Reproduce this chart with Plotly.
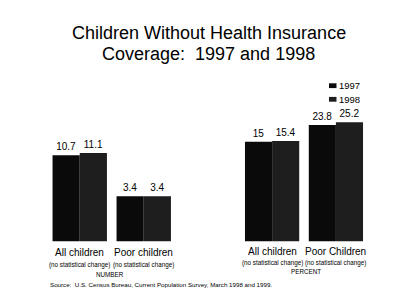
import plotly.graph_objects as go

# ---- data ----
years = ["1997", "1998"]
categories_number = ["All children", "Poor children"]
number_1997 = [10.7, 3.4]
number_1998 = [11.1, 3.4]
categories_percent = ["All children", "Poor Children"]
percent_1997 = [15, 23.8]
percent_1998 = [15.4, 25.2]
note_text = "(no statistical change)"
panel_titles = ["NUMBER", "PERCENT"]
title_lines = ["Children Without Health Insurance", "Coverage:  1997 and 1998"]
source_text = "Source:  U.S. Census Bureau, Current Population Survey, March 1998 and 1999."

# the original drawing does not start its bars at zero; these are the visual baselines
base_number = -4.7
base_percent = -37.5

FONT = "Liberation Sans, Arial, sans-serif"
colors = {"1997": "#0a0a0a", "1998": "#1e1e1e"}

W, H = 400, 308
fig = go.Figure()

def add_panel(cats, v97, v98, base, xa, ya):
    for yr, vals in zip(years, [v97, v98]):
        fig.add_trace(go.Bar(
            x=cats, y=[v - base for v in vals], base=base,
            text=[f"{v:g}" for v in vals], textposition="outside",
            textfont=dict(family=FONT, size=10, color="black"),
            marker=dict(color=colors[yr], line=dict(width=0)),
            name=yr, showlegend=False,
            xaxis=xa, yaxis=ya, cliponaxis=False,
        ))

add_panel(categories_number, number_1997, number_1998, base_number, "x", "y")
add_panel(categories_percent, percent_1997, percent_1998, base_percent, "x2", "y2")

ydom = [1 - 241.5 / H, 1 - 77 / H]
hidden = dict(showgrid=False, zeroline=False, showline=False, showticklabels=False, ticks="")
fig.update_layout(
    width=W, height=H,
    margin=dict(l=0, r=0, t=0, b=0),
    paper_bgcolor="white", plot_bgcolor="white",
    barmode="group", bargap=0.15, bargroupgap=0,
    font=dict(family=FONT, color="black"),
    showlegend=False,
    xaxis=dict(domain=[0.1181, 0.4406], type="category", **hidden),
    xaxis2=dict(domain=[0.599, 0.921], type="category", anchor="y2", **hidden),
    yaxis=dict(domain=ydom, range=[base_number, base_number + 164.5 / 5.6], **hidden),
    yaxis2=dict(domain=ydom, range=[base_percent, base_percent + 164.5 / 1.9], anchor="x2", **hidden),
)

ann = []
shapes = []
for line, yy in zip(title_lines, [1 - 33 / H, 1 - 54 / H]):
    ann.append(dict(text=line, x=208.5 / W, y=yy, xref="paper", yref="paper",
                    xanchor="center", yanchor="middle", showarrow=False,
                    font=dict(family=FONT, size=18, color="black")))

for cats, xr, ycat, ynote in [(categories_number, "x", 0.1818, 0.1396),
                              (categories_percent, "x2", 0.183, 0.147)]:
    for c in cats:
        ann.append(dict(text=c, x=c, y=ycat, xref=xr, yref="paper", showarrow=False,
                        xanchor="center", yanchor="middle",
                        font=dict(family=FONT, size=10, color="black")))
        ann.append(dict(text=note_text, x=c, y=ynote, xref=xr, yref="paper", showarrow=False,
                        xanchor="center", yanchor="middle",
                        font=dict(family=FONT, size=6.3, color="black")))

ann.append(dict(text=panel_titles[0], x=110 / W, y=1 - 274 / H, xref="paper", yref="paper",
                showarrow=False, xanchor="center", yanchor="middle",
                font=dict(family=FONT, size=6.3, color="black")))
ann.append(dict(text=panel_titles[1], x=306 / W, y=1 - 271 / H, xref="paper", yref="paper",
                showarrow=False, xanchor="center", yanchor="middle",
                font=dict(family=FONT, size=6.3, color="black")))
ann.append(dict(text=source_text, x=48 / W, y=1 - 284 / H, xref="paper", yref="paper",
                showarrow=False, xanchor="left", yanchor="middle",
                font=dict(family=FONT, size=6.2, color="black")))

# legend (drawn manually to match the compact original)
for yr, cy in zip(years, [85.7, 99.3]):
    shapes.append(dict(type="rect", xref="paper", yref="paper",
                       x0=329 / W, x1=336.5 / W, y0=1 - (cy + 2.4) / H, y1=1 - (cy - 2.4) / H,
                       fillcolor=colors[yr], line=dict(width=0)))
    ann.append(dict(text=yr, x=336.5 / W, y=1 - cy / H, xref="paper", yref="paper",
                    showarrow=False, xanchor="left", yanchor="middle",
                    font=dict(family=FONT, size=9.5, color="black")))

fig.update_layout(annotations=ann, shapes=shapes)
fig.write_html("out.html")
